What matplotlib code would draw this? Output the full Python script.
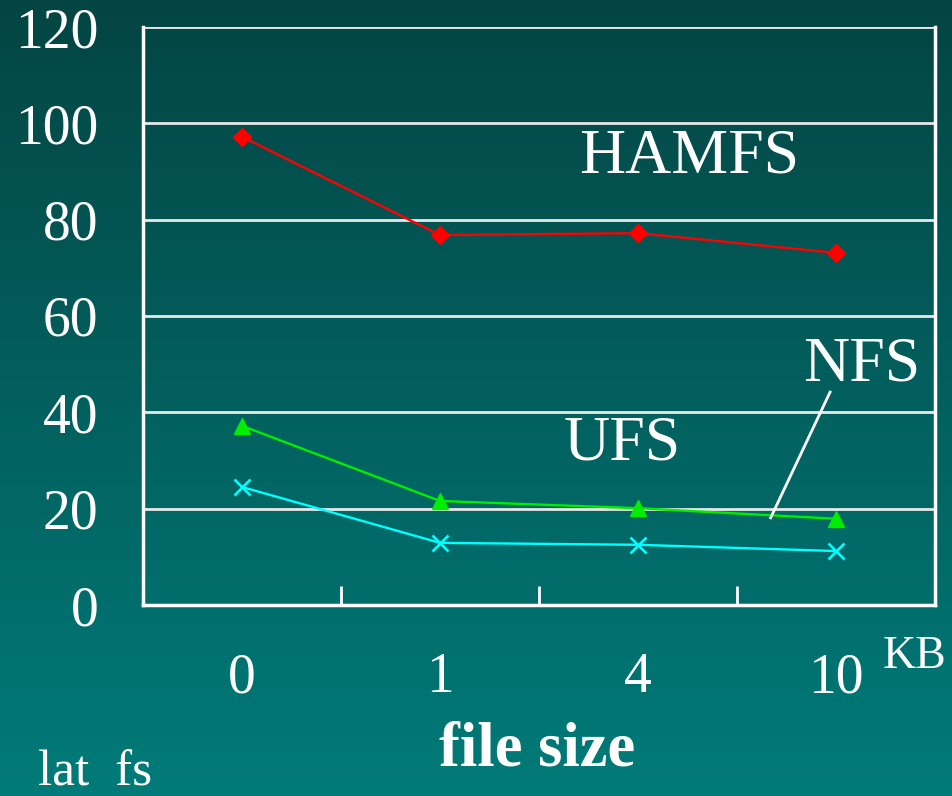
import numpy as np
import matplotlib.pyplot as plt
from matplotlib.colors import LinearSegmentedColormap

plt.rcParams['font.family'] = ['Liberation Serif', 'DejaVu Serif']

sizes = ['0', '1', '4', '10']
hamfs = [97.2, 76.8, 77.2, 73.1]
ufs = [37.2, 21.6, 20.1, 17.9]
nfs = [24.5, 12.9, 12.5, 11.2]
yticks = [0, 20, 40, 60, 80, 100, 120]

W, H = 953, 796
fig = plt.figure(figsize=(W / 100, H / 100), dpi=100)

# teal background, darker at the top
bg = fig.add_axes([0, 0, 1, 1], zorder=-10)
grad = np.linspace(0, 1, 256).reshape(-1, 1)
cmap = LinearSegmentedColormap.from_list('teal', ['#007b79', '#044543'])
bg.imshow(grad, aspect='auto', cmap=cmap, origin='lower', extent=[0, 1, 0, 1])
bg.axis('off')

ax = fig.add_axes([143 / W, (H - 605) / H, 792 / W, 578 / H])
ax.patch.set_alpha(0)
x = np.arange(len(sizes))

ax.plot(x, hamfs, color='#ff0000', lw=1.7, marker='D', ms=9.5, zorder=3)
ax.plot(x, ufs, color='#00ee00', lw=1.7, marker='^', ms=12, zorder=3)
ax.plot(x, nfs, color='#00ffff', lw=1.7, marker='x', ms=12, mew=1.9, zorder=3)

ax.set_xlim(-0.5, 3.5)
ax.set_ylim(0, 120)
ax.set_yticks(yticks)
ax.set_xticks(x)
ax.set_xticklabels(sizes)
ax.set_xticks([0.5, 1.5, 2.5], minor=True)
ax.yaxis.grid(True, color='#e8e8e8', lw=2)
ax.set_axisbelow(True)

for side in ['left', 'right', 'bottom']:
    ax.spines[side].set_color('white')
    ax.spines[side].set_linewidth(2.5)
ax.spines['top'].set_visible(False)

ax.tick_params(axis='y', direction='in', length=0, colors='white',
               labelsize=40, pad=32)
ax.tick_params(axis='x', which='major', length=0, colors='white',
               labelsize=40, pad=34)
ax.tick_params(axis='x', which='minor', direction='in', length=14,
               width=2, colors='white')

ax.text(2.26, 93, 'HAMFS', color='white', fontsize=46, ha='center', va='center')
ax.text(1.92, 33.4, 'UFS', color='white', fontsize=46, ha='center', va='center')
ax.text(3.13, 49.8, 'NFS', color='white', fontsize=46, ha='center', va='center')
ax.plot([2.97, 2.67], [44.2, 18.1], color='white', lw=2, zorder=4)

fig.text(915 / W, 1 - 657 / H, 'KB', color='white', fontsize=33,
         ha='center', va='center')
fig.text(537 / W, 1 - 750 / H, 'file size', color='white', fontsize=45,
         fontweight='bold', ha='center', va='center')
fig.text(38 / W, 1 - 773 / H, 'lat  fs', color='white', fontsize=37,
         ha='left', va='center')

fig.savefig('out.png', dpi=100)
